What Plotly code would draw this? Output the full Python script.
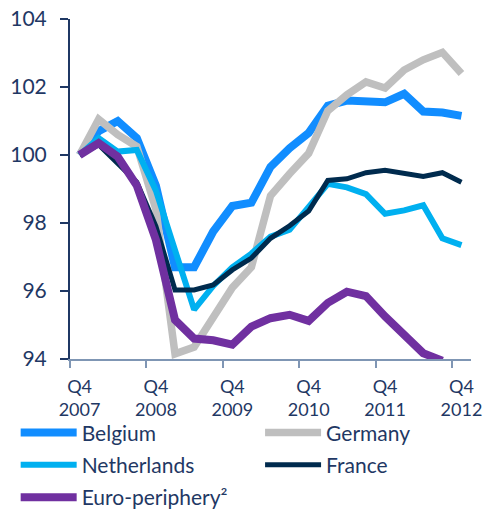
import plotly.graph_objects as go

quarters = ["Q4 2007", "Q1 2008", "Q2 2008", "Q3 2008", "Q4 2008", "Q1 2009", "Q2 2009",
            "Q3 2009", "Q4 2009", "Q1 2010", "Q2 2010", "Q3 2010", "Q4 2010", "Q1 2011",
            "Q2 2011", "Q3 2011", "Q4 2011", "Q1 2012", "Q2 2012", "Q3 2012", "Q4 2012"]

belgium = [100, 100.7, 101.0, 100.5, 99.1, 96.7, 96.7, 97.75, 98.5, 98.6, 99.65, 100.2,
           100.65, 101.45, 101.6, 101.6, 101.55, 101.8, 101.28, 101.25, 101.15]
germany = [100, 101.05, 100.6, 100.25, 98.4, 94.15, 94.35, 95.25, 96.1, 96.7, 98.8, 99.45,
           100.05, 101.3, 101.77, 102.15, 101.97, 102.5, 102.8, 103.02, 102.4]
netherlands = [100, 100.5, 100.1, 100.15, 98.95, 97.2, 95.45, 96.15, 96.7, 97.1, 97.6, 97.8,
               98.5, 99.15, 99.05, 98.85, 98.27, 98.37, 98.52, 97.55, 97.35]
france = [100, 100.3, 99.75, 99.2, 97.9, 96.03, 96.03, 96.18, 96.62, 96.97, 97.55, 97.92,
          98.35, 99.25, 99.3, 99.48, 99.55, 99.47, 99.37, 99.48, 99.2]
euro_periphery = [100, 100.35, 99.95, 99.1, 97.5, 95.15, 94.6, 94.55, 94.42, 94.95, 95.2, 95.3,
                  95.12, 95.65, 95.98, 95.85, 95.25, 94.7, 94.17, 93.95, None]

tick_quarters = ["Q4 2007", "Q4 2008", "Q4 2009", "Q4 2010", "Q4 2011", "Q4 2012"]
y_ticks = [94, 96, 98, 100, 102, 104]

# (name, values, colour, width, legend column)
series = [
    ("Belgium", belgium, "#118DFF", 8, "legend"),
    ("Germany", germany, "#BFBFBF", 7.5, "legend2"),
    ("Netherlands", netherlands, "#00B0F0", 6, "legend"),
    ("France", france, "#002B4E", 5, "legend2"),
    ("Euro-periphery²", euro_periphery, "#7030A0", 8, "legend"),
]

x = list(range(len(quarters)))
navy = "#1F3864"
font = "Lato, Carlito, Calibri, sans-serif"

fig = go.Figure()
for name, vals, color, w, leg in series:
    fig.add_trace(go.Scatter(x=x, y=vals, name=name, mode="lines", legend=leg,
                             legendgroup=name,
                             line=dict(color=color, width=w), connectgaps=False))

tickvals = [quarters.index(q) for q in tick_quarters]
ticktext = [q.replace(" ", "<br>") for q in tick_quarters]
boundaries = [v - 0.5 for v in tickvals]

legend_common = dict(orientation="v", y=-0.157, yanchor="top", xanchor="left",
                     itemwidth=56, tracegroupgap=2, bgcolor="rgba(0,0,0,0)",
                     font=dict(family=font, size=21, color=navy))

fig.update_layout(
    width=484, height=510,
    margin=dict(l=70, r=13, t=19, b=151, autoexpand=False),
    paper_bgcolor="white", plot_bgcolor="white",
    font=dict(family=font, size=18, color=navy),
    showlegend=True,
    legend=dict(x=-0.1355, **legend_common),
    legend2=dict(x=0.474, **legend_common),
    xaxis=dict(range=[-0.5, len(quarters) - 0.5], tickmode="array", tickvals=tickvals,
               ticktext=ticktext, ticks="", showgrid=False, zeroline=False,
               showline=True, linecolor="#7F96B4", linewidth=2, automargin=False,
               ticklabeloverflow="allow", ticklabelstandoff=10,
               tickfont=dict(family=font, size=18, color=navy),
               minor=dict(tickmode="array", tickvals=boundaries, ticks="outside",
                          ticklen=7, tickwidth=2, tickcolor="#7F96B4", showgrid=False)),
    yaxis=dict(range=[94, 104], tickmode="array", tickvals=y_ticks, ticks="outside",
               ticklen=8, tickwidth=2, tickcolor=navy, showgrid=False, zeroline=False,
               showline=True, linecolor=navy, linewidth=2, ticklabelstandoff=9,
               ticklabeloverflow="allow",
               automargin=False, tickfont=dict(family=font, size=21, color=navy)),
)

fig.write_html("out.html", config={"displayModeBar": False},
               post_script="document.body.style.margin='0px';"
                           "document.body.style.overflow='hidden';")
